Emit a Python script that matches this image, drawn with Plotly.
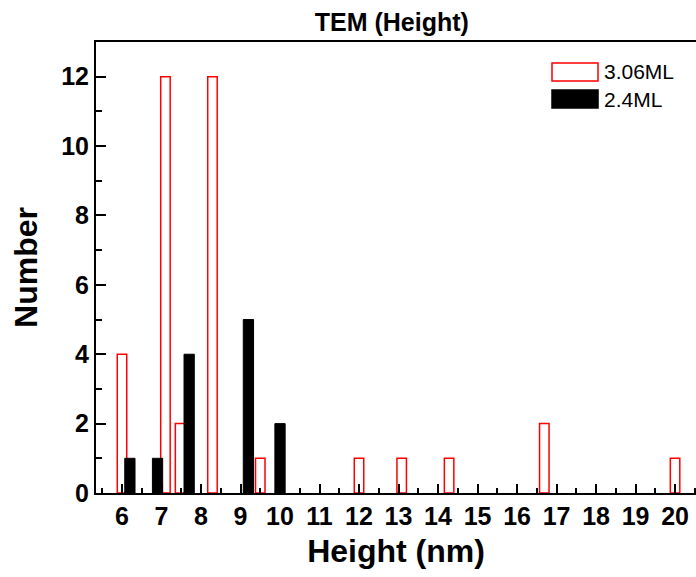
import plotly.graph_objects as go

# Data
x_306 = [6.0, 7.1, 7.47, 8.29, 9.5, 12.0, 13.08, 14.28, 16.69, 20.0]
y_306 = [4, 12, 2, 12, 1, 1, 1, 1, 2, 1]
x_24 = [6.2, 6.9, 7.7, 9.2, 10.0]
y_24 = [1, 1, 4, 5, 2]
x_ticks = list(range(6, 21))
y_ticks = [0, 2, 4, 6, 8, 10, 12]
series_names = ["3.06ML", "2.4ML"]

FONT = "Liberation Sans, Arial, Helvetica, sans-serif"

fig = go.Figure()
fig.add_trace(go.Bar(
    x=x_306, y=y_306, name=series_names[0], width=0.24,
    marker=dict(color="white", line=dict(color="red", width=1.5)),
    showlegend=False,
))
fig.add_trace(go.Bar(
    x=x_24, y=y_24, name=series_names[1], width=0.26,
    marker=dict(color="black", line=dict(color="black", width=1)),
    showlegend=False,
))

# Legend drawn as swatches + text (wide rectangles like the original)
legend_items = [
    dict(fill="white", line="red", y0=0.9135, y1=0.9534, ty=0.9335, text=series_names[0]),
    dict(fill="black", line="black", y0=0.8537, y1=0.8936, ty=0.8736, text=series_names[1]),
]
for it in legend_items:
    fig.add_shape(type="rect", xref="paper", yref="paper",
                  x0=0.76, x1=0.8367, y0=it["y0"], y1=it["y1"],
                  fillcolor=it["fill"], line=dict(color=it["line"], width=1.5))
    fig.add_annotation(xref="paper", yref="paper", x=0.843, y=it["ty"],
                       text=it["text"], showarrow=False, xanchor="left", yanchor="middle",
                       font=dict(size=21, family=FONT, color="black"))

fig.update_layout(
    width=696, height=577,
    margin=dict(l=96, r=0, t=42, b=84),
    barmode="overlay",
    plot_bgcolor="white", paper_bgcolor="white",
    font=dict(family=FONT, color="black"),
    title=dict(text="TEM (Height)", x=0.563, xanchor="center", y=0.962, yanchor="middle",
               font=dict(size=25, weight="bold", family=FONT)),
    showlegend=False,
)
fig.update_xaxes(
    range=[5.342, 20.53], tickvals=x_ticks, ticktext=[str(v) for v in x_ticks],
    ticks="inside", ticklen=9, tickwidth=2, tickcolor="black",
    minor=dict(dtick=0.5, tick0=5.5, ticks="inside", ticklen=5, tickwidth=2, tickcolor="black"),
    showline=True, linecolor="black", linewidth=2, mirror=True,
    showgrid=False, zeroline=False,
    tickfont=dict(size=25, weight="bold", family=FONT),
    title=dict(text="Height (nm)", font=dict(size=32, weight="bold", family=FONT), standoff=11),
)
fig.update_yaxes(
    range=[0, 13], tickvals=y_ticks,
    ticks="inside", ticklen=10, tickwidth=2, tickcolor="black",
    minor=dict(dtick=1, tick0=1, ticks="inside", ticklen=6, tickwidth=2, tickcolor="black"),
    showline=True, linecolor="black", linewidth=2, mirror=False,
    showgrid=False, zeroline=False,
    tickfont=dict(size=25, weight="bold", family=FONT),
    title=dict(text="Number", font=dict(size=32, weight="bold", family=FONT), standoff=14),
)

fig.write_html("out.html")
